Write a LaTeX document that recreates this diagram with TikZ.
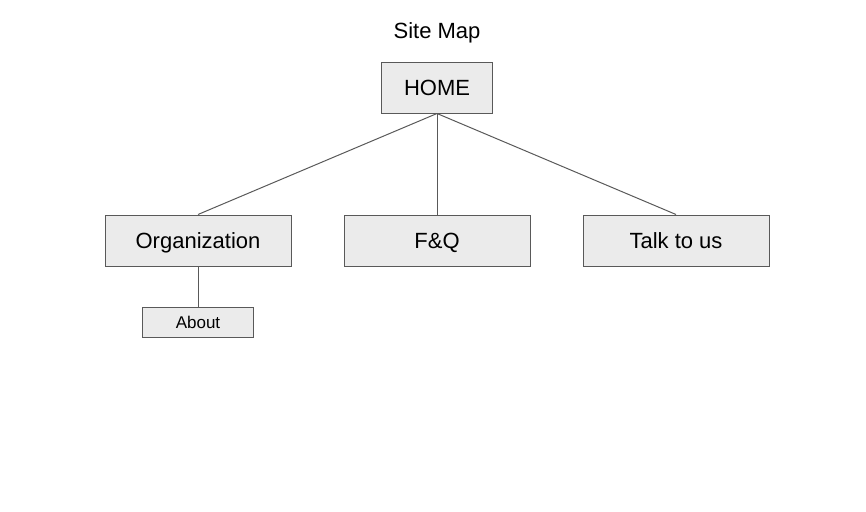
\documentclass[tikz,border=0pt]{standalone}
\usepackage{fontspec}
\setmainfont{Liberation Sans}
\usetikzlibrary{positioning}
\definecolor{pagebox}{HTML}{EBEBEB}
\definecolor{pageline}{HTML}{595959}
\tikzset{page/.style={draw=pageline, fill=pagebox, line width=1pt, inner sep=0pt, align=center}}
\tikzset{bigpage/.style={page, font=\fontsize{22}{26}\selectfont, text height=16pt, text depth=0pt}}
\tikzset{link/.style={draw=pageline, line width=1pt}}

\begin{document}
\begin{tikzpicture}[x=1pt, y=-1pt, node distance=52pt]
\useasboundingbox (0,0) rectangle (866,511);
\node[font=\fontsize{22}{26}\selectfont, text height=16pt, text depth=0pt, inner sep=0pt] (title) at (437,31) {Site Map};

\node[bigpage, minimum width=111pt, minimum height=51pt] (home) at (437,87.5) {HOME};
\node[below=101pt of home, bigpage, minimum width=186pt, minimum height=51pt] (faq) {F\&Q};
\node[left=of faq, bigpage, minimum width=186pt, minimum height=51pt] (org) {Organization};
\node[right=of faq, bigpage, minimum width=186pt, minimum height=51pt] (talk) {Talk to us};
\node[below=40pt of org, page, font=\fontsize{17}{20}\selectfont, text height=12pt, text depth=0pt, minimum width=111pt, minimum height=30pt] (about) {About};

\draw[link] (home.south) -- (org.north);
\draw[link] (home.south) -- (faq.north);
\draw[link] (home.south) -- (talk.north);
\draw[link] (org.south) -- (about.north);
\end{tikzpicture}
\end{document}
